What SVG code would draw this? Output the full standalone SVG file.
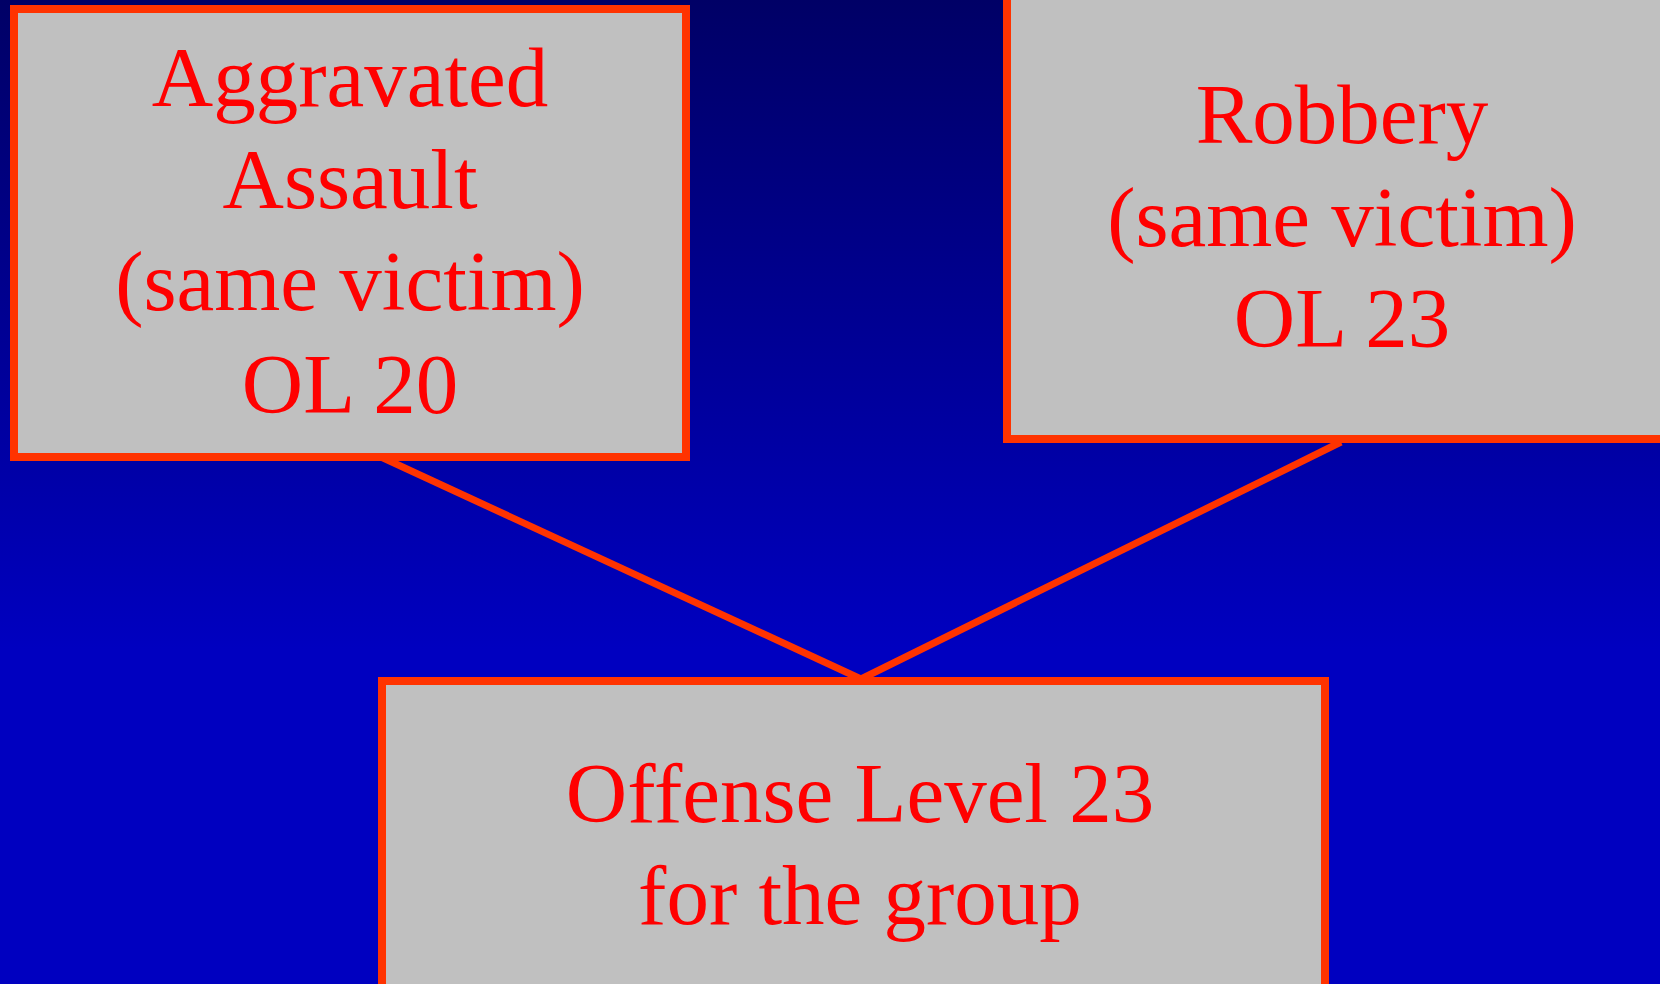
<svg xmlns="http://www.w3.org/2000/svg" width="1660" height="984" viewBox="0 0 1660 984">
<defs>
<linearGradient id="bg" x1="0" y1="0" x2="0" y2="1">
<stop offset="0" stop-color="#000066"/>
<stop offset="0.66" stop-color="#0000C0"/>
<stop offset="1" stop-color="#0000C0"/>
</linearGradient>
<style>
.box{fill:#C0C0C0;stroke:#FF3300;stroke-width:8}
.t{font-family:"Liberation Serif","Times New Roman",serif;font-size:85px;fill:#FF0000;text-anchor:middle}
.c{stroke:#FF3300;stroke-width:7;fill:none}
</style>
</defs>
<rect x="0" y="0" width="1660" height="984" fill="url(#bg)"/>
<g id="connectors">
<line class="c" x1="381" y1="457" x2="861" y2="679"/>
<line class="c" x1="1341" y1="442" x2="861" y2="679"/>
</g>
<g id="aggravated-assault">
<rect class="box" x="14" y="9" width="672" height="448"/>
<text class="t" x="350" y="106">Aggravated</text>
<text class="t" x="350" y="208">Assault</text>
<text class="t" x="350" y="310">(same victim)</text>
<text class="t" x="350" y="413">OL 20</text>
</g>
<g id="robbery">
<rect class="box" x="1007" y="-10" width="680" height="449"/>
<text class="t" x="1342" y="143">Robbery</text>
<text class="t" x="1342" y="246">(same victim)</text>
<text class="t" x="1342" y="347">OL 23</text>
</g>
<g id="offense-level">
<rect class="box" x="382" y="681" width="943" height="320"/>
<text class="t" x="860" y="822">Offense Level 23</text>
<text class="t" x="860" y="924">for the group</text>
</g>
</svg>
